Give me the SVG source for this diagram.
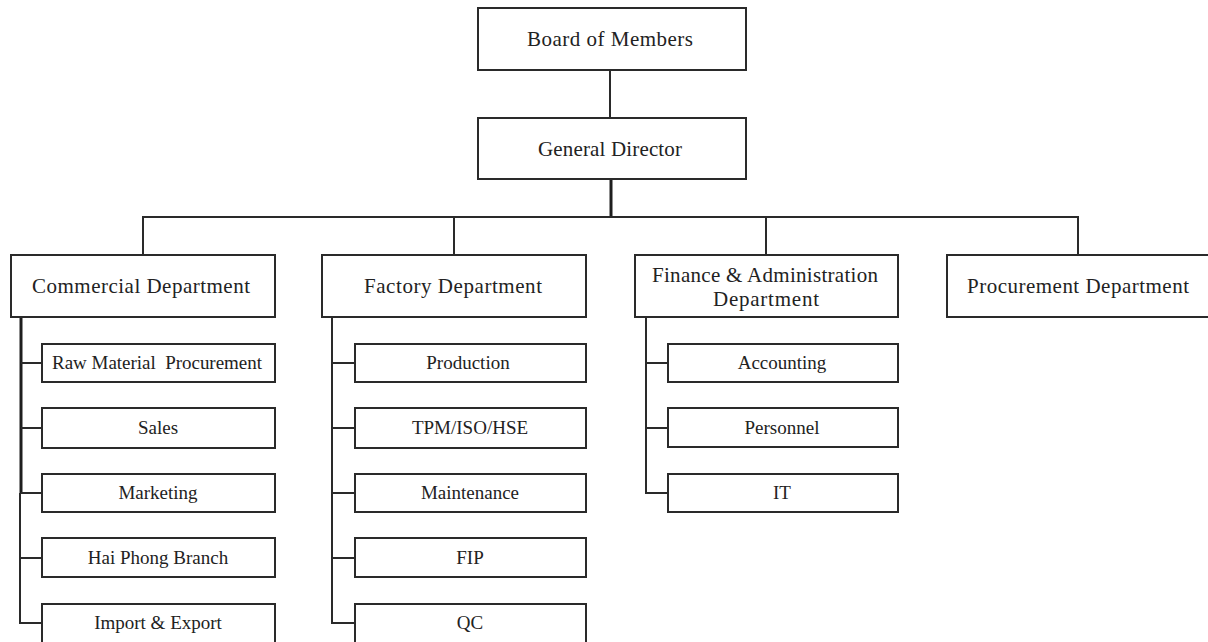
<svg xmlns="http://www.w3.org/2000/svg" width="1208" height="642" viewBox="0 0 1208 642">
<style>
.box{fill:#fff;stroke:#2a2a2a;stroke-width:2}
.ln{fill:none;stroke:#2a2a2a;stroke-width:2}
.thk{fill:none;stroke:#1e1e1e;stroke-width:3}
text{font-family:"Liberation Serif","Times New Roman",serif;fill:#222;text-anchor:middle;white-space:pre}
.h{font-size:21px}
.s{font-size:19px}
</style>
<rect width="1208" height="642" fill="#fff"/>
<g id="connectors">
<line class="ln" x1="610" y1="70" x2="610" y2="118"/>
<line class="thk" x1="611" y1="179" x2="611" y2="217"/>
<polyline class="ln" points="143,255 143,217 1078,217 1078,255"/>
<line class="ln" x1="454" y1="217" x2="454" y2="255"/>
<line class="ln" x1="766" y1="217" x2="766" y2="255"/>
<line class="thk" x1="21" y1="317" x2="21" y2="493"/>
<polyline class="ln" points="20,493 20,623 42,623"/>
<line class="ln" x1="21" y1="363" x2="42" y2="363"/>
<line class="ln" x1="21" y1="428" x2="42" y2="428"/>
<line class="ln" x1="21" y1="493" x2="42" y2="493"/>
<line class="ln" x1="20" y1="558" x2="42" y2="558"/>
<polyline class="ln" points="332,317 332,623 355,623"/>
<line class="ln" x1="332" y1="363" x2="355" y2="363"/>
<line class="ln" x1="332" y1="428" x2="355" y2="428"/>
<line class="ln" x1="332" y1="493" x2="355" y2="493"/>
<line class="ln" x1="332" y1="558" x2="355" y2="558"/>
<polyline class="ln" points="646,317 646,493 668,493"/>
<line class="ln" x1="646" y1="363" x2="668" y2="363"/>
<line class="ln" x1="646" y1="428" x2="668" y2="428"/>
</g>
<g id="board"><rect class="box" x="478" y="8" width="268" height="62"/><text class="h" x="610" y="46" textLength="166" lengthAdjust="spacing">Board of Members</text></g>
<g id="gd"><rect class="box" x="478" y="118" width="268" height="61"/><text class="h" x="610" y="156" textLength="144" lengthAdjust="spacing">General Director</text></g>
<g id="commercial"><rect class="box" x="11" y="255" width="264" height="62"/><text class="h" x="141" y="293" textLength="218" lengthAdjust="spacing">Commercial Department</text></g>
<g id="factory"><rect class="box" x="322" y="255" width="264" height="62"/><text class="h" x="453" y="293" textLength="178" lengthAdjust="spacing">Factory Department</text></g>
<g id="finance"><rect class="box" x="635" y="255" width="263" height="62"/><text class="h" x="765" y="282" textLength="226" lengthAdjust="spacing">Finance &amp; Administration</text><text class="h" x="766" y="306" textLength="106" lengthAdjust="spacing">Department</text></g>
<g id="procurement"><rect class="box" x="947" y="255" width="262" height="62"/><text class="h" x="1078" y="293" textLength="222" lengthAdjust="spacing">Procurement Department</text></g>
<g id="raw"><rect class="box" x="42" y="344" width="233" height="38"/><text class="s" x="157" y="369" textLength="210" lengthAdjust="spacing">Raw Material  Procurement</text></g>
<g id="sales"><rect class="box" x="42" y="408" width="233" height="40"/><text class="s" x="158" y="434">Sales</text></g>
<g id="marketing"><rect class="box" x="42" y="474" width="233" height="38"/><text class="s" x="158" y="499">Marketing</text></g>
<g id="haiphong"><rect class="box" x="42" y="538" width="233" height="39"/><text class="s" x="158" y="564">Hai Phong Branch</text></g>
<g id="importexport"><rect class="box" x="42" y="604" width="233" height="40"/><text class="s" x="158" y="629">Import &amp; Export</text></g>
<g id="production"><rect class="box" x="355" y="344" width="231" height="38"/><text class="s" x="468" y="369">Production</text></g>
<g id="tpm"><rect class="box" x="355" y="408" width="231" height="40"/><text class="s" x="470" y="434">TPM/ISO/HSE</text></g>
<g id="maintenance"><rect class="box" x="355" y="474" width="231" height="38"/><text class="s" x="470" y="499">Maintenance</text></g>
<g id="fip"><rect class="box" x="355" y="538" width="231" height="39"/><text class="s" x="470" y="564">FIP</text></g>
<g id="qc"><rect class="box" x="355" y="604" width="231" height="40"/><text class="s" x="470" y="629">QC</text></g>
<g id="accounting"><rect class="box" x="668" y="344" width="230" height="38"/><text class="s" x="782" y="369">Accounting</text></g>
<g id="personnel"><rect class="box" x="668" y="408" width="230" height="39"/><text class="s" x="782" y="434">Personnel</text></g>
<g id="it"><rect class="box" x="668" y="474" width="230" height="38"/><text class="s" x="782" y="499">IT</text></g>
</svg>
